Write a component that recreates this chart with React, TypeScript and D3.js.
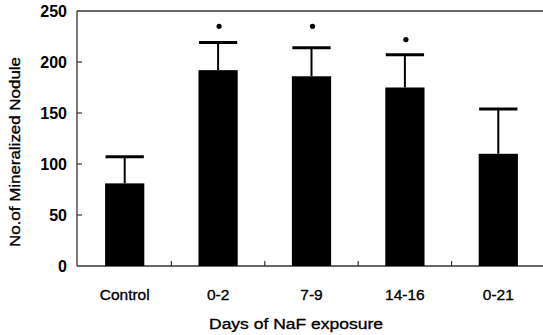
import React from "react";
import * as d3 from "d3";

const categories = ["Control", "0-2", "7-9", "14-16", "0-21"];
const means = [81, 192, 186, 175, 110];
const errors = [26, 27, 28, 32, 44];
const starLevels = [null, 235, 235, 222, null];
const yTicks = [0, 50, 100, 150, 200, 250];

const W = 543;
const H = 335;
const left = 77;
const right = 545;
const top = 11;
const bottom = 266;

export default function App() {
  const x = d3.scaleBand<string>().domain(categories).range([left + 1, right]).paddingInner(0).paddingOuter(0);
  const y = d3.scaleLinear().domain([0, 250]).range([bottom, top]);
  const barW = x.bandwidth() * 0.42;
  const capW = x.bandwidth() * 0.41;
  const font = "'Liberation Sans', Arial, sans-serif";

  return (
    <svg width={W} height={H} style={{ position: "absolute", left: 0, top: 0, background: "#fff" }}>
      <line x1={left} x2={W} y1={top} y2={top} stroke="#333" strokeWidth={1.3} />
      <line x1={left} x2={left} y1={top} y2={bottom} stroke="#333" strokeWidth={1.3} />
      <line x1={left} x2={W} y1={bottom} y2={bottom} stroke="#333" strokeWidth={1.3} />
      {yTicks.map((t) => (
        <g key={t}>
          {t > 0 && t < 250 && (
            <line x1={left} x2={left + 5} y1={y(t)} y2={y(t)} stroke="#333" strokeWidth={1.2} />
          )}
          <text x={67} y={y(t) + 6} textAnchor="end" fontFamily={font} fontWeight="bold" fontSize={16} fill="#000">
            {t}
          </text>
        </g>
      ))}
      {categories.slice(1).map((c) => (
        <line key={c} x1={x(c)!} x2={x(c)!} y1={bottom} y2={bottom - 5} stroke="#333" strokeWidth={1.2} />
      ))}
      {categories.map((c, i) => {
        const cx = x(c)! + x.bandwidth() / 2;
        const s = starLevels[i];
        return (
          <g key={c}>
            <rect x={cx - barW / 2} y={y(means[i])} width={barW} height={bottom - y(means[i])} fill="#000" />
            <line x1={cx} x2={cx} y1={y(means[i])} y2={y(means[i] + errors[i])} stroke="#000" strokeWidth={2} />
            <line
              x1={cx - capW / 2}
              x2={cx + capW / 2}
              y1={y(means[i] + errors[i])}
              y2={y(means[i] + errors[i])}
              stroke="#000"
              strokeWidth={3}
            />
            {s !== null && <circle cx={cx + 1} cy={y(s)} r={2.6} fill="#000" />}
            <text
              x={cx}
              y={300}
              textAnchor="middle"
              fontFamily={font}
              fontSize={15.5}
              stroke="#000"
              strokeWidth={0.35}
              fill="#000"
            >
              {c}
            </text>
          </g>
        );
      })}
      <text
        x={296}
        y={329}
        textAnchor="middle"
        fontFamily={font}
        fontSize={15.5}
        stroke="#000"
        strokeWidth={0.35}
        textLength={174}
        lengthAdjust="spacingAndGlyphs"
        fill="#000"
      >
        Days of NaF exposure
      </text>
      <text
        transform={`translate(20,152) rotate(-90)`}
        textAnchor="middle"
        fontFamily={font}
        fontSize={15.5}
        stroke="#000"
        strokeWidth={0.35}
        textLength={190}
        lengthAdjust="spacingAndGlyphs"
        fill="#000"
      >
        No.of Mineralized Nodule
      </text>
    </svg>
  );
}
